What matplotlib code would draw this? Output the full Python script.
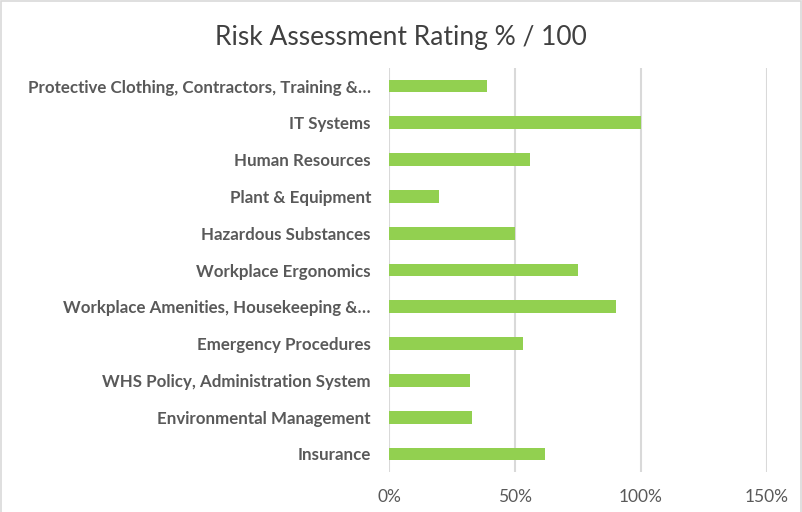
import matplotlib.pyplot as plt
from matplotlib.ticker import PercentFormatter
from matplotlib.patches import Rectangle

# Datos de la grafica (de arriba hacia abajo)
categorias = [
    "Protective Clothing, Contractors, Training &…",
    "IT Systems",
    "Human Resources",
    "Plant & Equipment",
    "Hazardous Substances",
    "Workplace Ergonomics",
    "Workplace Amenities, Housekeeping &…",
    "Emergency Procedures",
    "WHS Policy, Administration System",
    "Environmental Management",
    "Insurance",
]
valores = [0.39, 1.00, 0.56, 0.20, 0.50, 0.75, 0.90, 0.53, 0.32, 0.33, 0.62]
ticks_x = [0, 0.5, 1.0, 1.5]

plt.rcParams['font.family'] = ['Lato', 'DejaVu Sans']

fig = plt.figure(figsize=(8.02, 5.12), dpi=100)
ax = fig.add_axes([389 / 802, 1 - 472.4 / 512, (767 - 389) / 802, (472.4 - 67.6) / 512])

pos = list(range(len(categorias)))[::-1]
ax.barh(pos, valores, height=0.35, color='#92D050', zorder=3)

ax.set_xlim(0, 1.5)
ax.set_ylim(-0.5, len(categorias) - 0.5)
ax.set_xticks(ticks_x)
ax.xaxis.set_major_formatter(PercentFormatter(1.0, decimals=0))
ax.set_yticks(pos)
ax.set_yticklabels(categorias, fontsize=12.2, fontweight='bold', color='#595959')
ax.tick_params(axis='y', length=0, pad=13)
ax.tick_params(axis='x', length=0, pad=12, labelsize=12.5, labelcolor='#595959')

ax.grid(axis='x', color='#d9d9d9', linewidth=1.5, zorder=0)
for s in ax.spines.values():
    s.set_visible(False)

fig.text(0.5, 1 - 37 / 512, 'Risk Assessment Rating % / 100', ha='center', va='center',
         fontsize=19, color='#404040')

# borde gris del area del grafico (abajo queda recortado)
fig.patches.append(Rectangle((0.6 / 802, -0.05), 800.8 / 802, 1.05 - 0.6 / 512,
                             transform=fig.transFigure, fill=False,
                             edgecolor='#d9d9d9', linewidth=1.2))

fig.savefig('out.png', dpi=100)
